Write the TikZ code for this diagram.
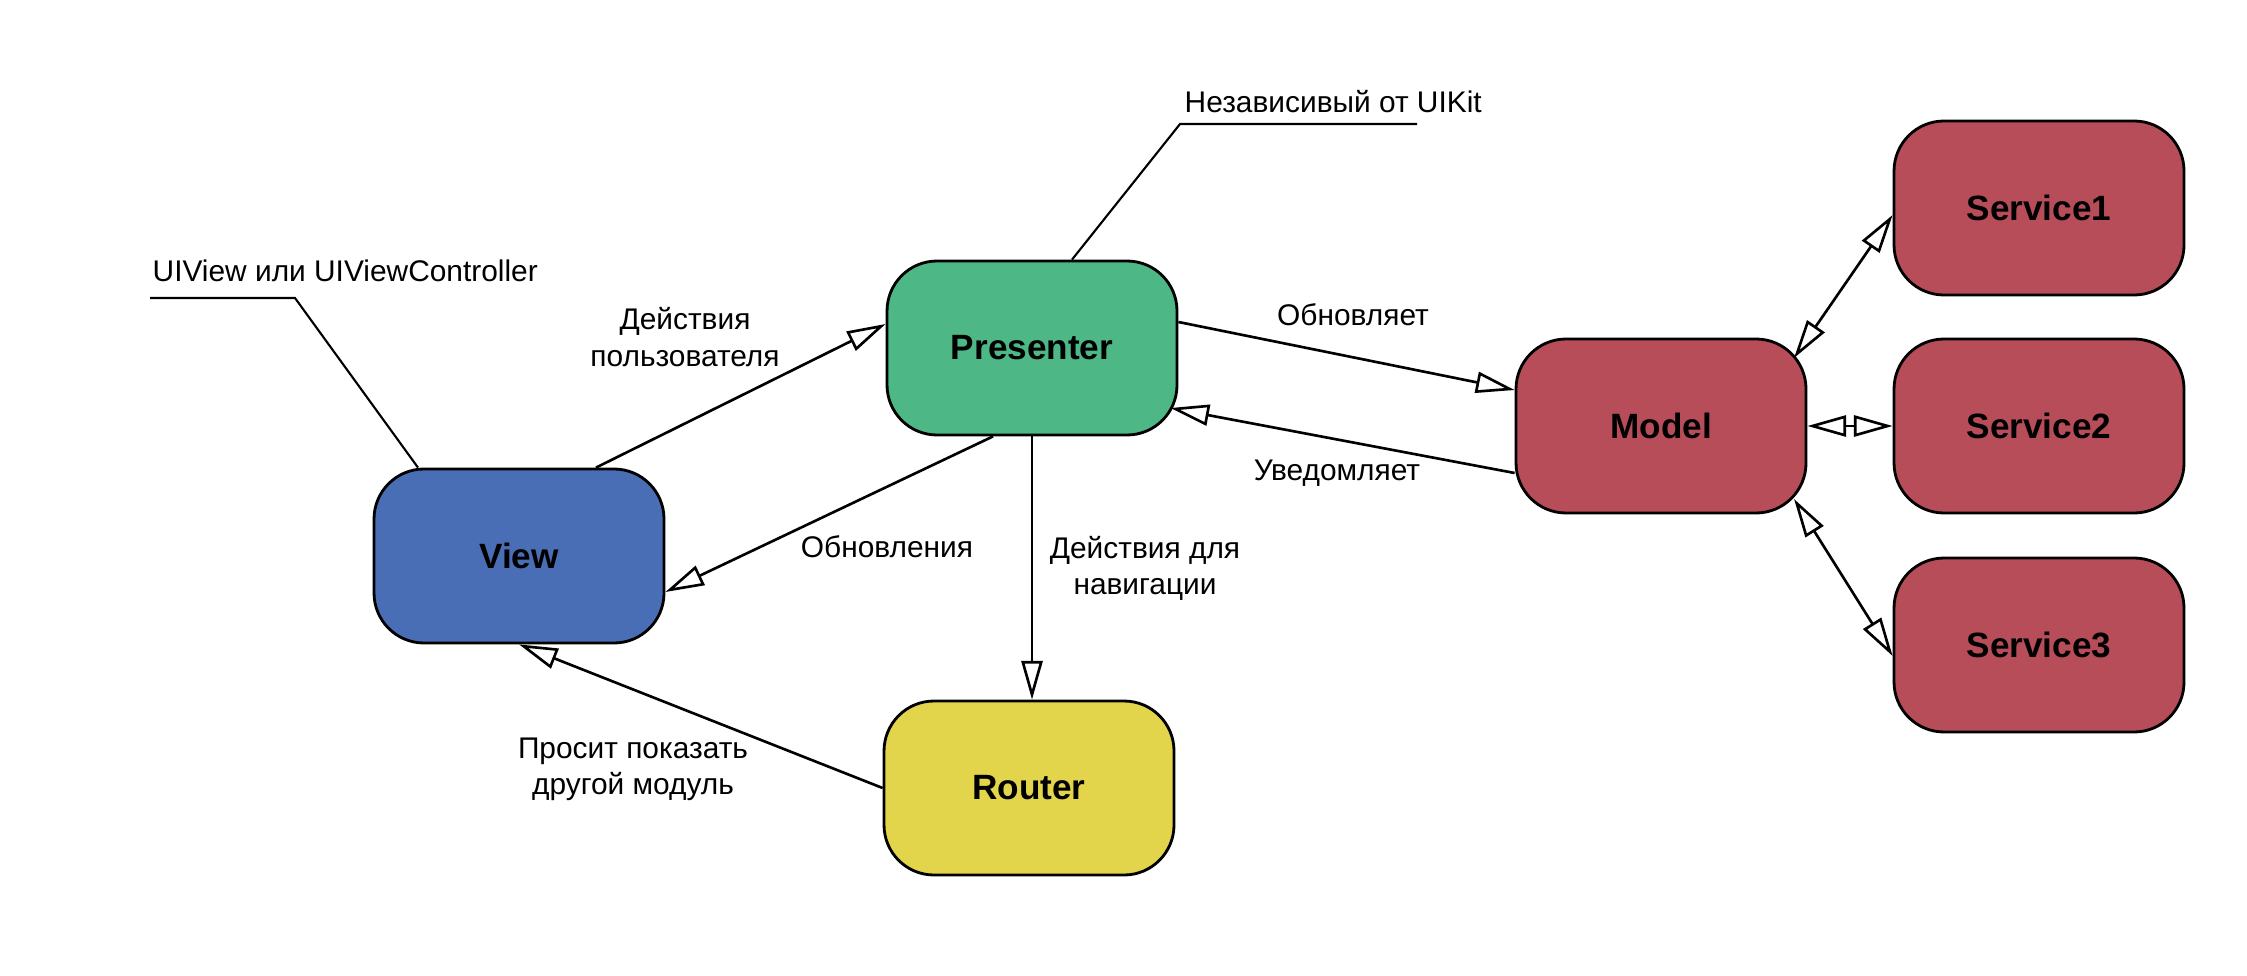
\documentclass[tikz,border=0pt]{standalone}
\usepackage{fontspec}
\setmainfont{Liberation Sans}
\usetikzlibrary{arrows.meta, positioning, calc}
\definecolor{viewblue}{RGB}{74, 110, 181}
\definecolor{presgreen}{RGB}{77, 184, 134}
\definecolor{modelred}{RGB}{184, 77, 90}
\definecolor{routeryellow}{RGB}{226, 213, 75}

\begin{document}
\begin{tikzpicture}[
  box/.style={draw=black, line width=0.8pt, rounded corners=0.5cm, minimum width=2.9cm, minimum height=1.74cm, font=\fontsize{10}{12}\selectfont\bfseries},
  conn/.style={line width=0.75pt, -{Triangle[open, length=11pt, width=6pt]}},
  twoway/.style={line width=0.75pt, {Triangle[open, length=11pt, width=6pt]}-{Triangle[open, length=11pt, width=6pt]}},
  lbl/.style={font=\fontsize{8.5}{10.3}\selectfont, align=center},
  note/.style={font=\fontsize{8.5}{10.3}\selectfont, inner sep=0pt, anchor=base west},
  leader/.style={line width=0.6pt}
]
  \useasboundingbox (0, 0) rectangle (22.47, 9.75);

  \node[box, fill=viewblue] (view) at (5.19, 4.19) {View};
  \node[box, fill=presgreen] (presenter) at (10.32, 6.27) {Presenter};
  \node[box, fill=routeryellow] (router) at (10.29, 1.87) {Router};
  \node[box, fill=modelred] (model) at (16.61, 5.49) {Model};
  \node[box, fill=modelred] (service1) at (20.39, 7.67) {Service1};
  \node[box, fill=modelred] (service2) at (20.39, 5.49) {Service2};
  \node[box, fill=modelred] (service3) at (20.39, 3.30) {Service3};

  % annotations
  \node[note] (uiviewnote) at (1.52, 6.94) {UIView или UIViewController};
  \coordinate (uiviewstart) at (1.50, 6.77);
  \coordinate (uiviewbend) at (2.95, 6.77);
  \draw[leader] (uiviewstart) -- (uiviewbend) -- ([xshift=-1.01cm]view.north);

  \node[note] (uikitnote) at (11.84, 8.62) {Независивый от UIKit};
  \coordinate (uikitend) at (14.17, 8.51);
  \coordinate (uikitbend) at (11.80, 8.51);
  \draw[leader] (uikitend) -- (uikitbend) -- ([xshift=0.40cm]presenter.north);

  % connectors
  \draw[conn] ([xshift=0.77cm]view.north) -- ([yshift=0.24cm]presenter.west);
  \draw[conn] ([xshift=-0.39cm]presenter.south) -- ([yshift=-0.36cm]view.east);
  \draw[conn] (presenter.south) -- (presenter.south |- router.north);
  \draw[conn] (router.west) -- (view.south);
  \draw[conn] ([yshift=0.26cm]presenter.east) -- ([yshift=0.36cm]model.west);
  \draw[conn] ([yshift=-0.47cm]model.west) -- ([xshift=-0.08cm, yshift=-0.6cm]presenter.east);
  \draw[twoway] ([shift={(1.33, 0.68)}]model.center) -- ([yshift=-0.07cm]service1.west);
  \draw[twoway] (model.east) -- (service2.west);
  \draw[twoway] ([shift={(1.33, -0.73)}]model.center) -- ([yshift=-0.11cm]service3.west);

  % labels
  \node[lbl] (useractions) at (6.85, 6.38) {Действия\\пользователя};
  \node[lbl] (updates) at (8.87, 4.28) {Обновления};
  \node[lbl] (navactions) at (11.45, 4.07) {Действия для\\навигации};
  \node[lbl] (showmodule) at (6.33, 2.06) {Просит показать\\другой модуль};
  \node[lbl] (refreshes) at (13.53, 6.60) {Обновляет};
  \node[lbl] (notifies) at (13.37, 5.02) {Уведомляет};
\end{tikzpicture}
\end{document}
